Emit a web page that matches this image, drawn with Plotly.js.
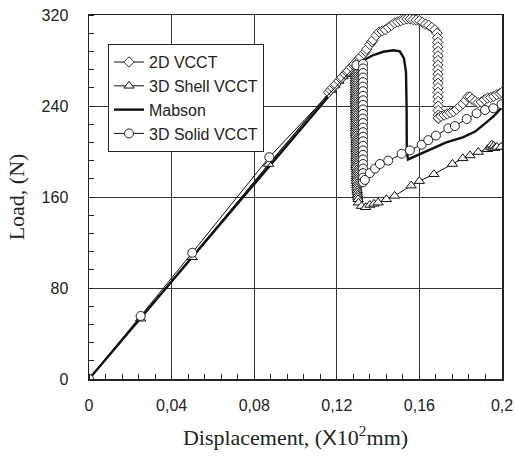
<!DOCTYPE html>
<html>
<head>
<meta charset="utf-8">
<script src="https://cdn.plot.ly/plotly-3.0.1.min.js"></script>
<style>html,body{margin:0;padding:0;background:#fff;}#chart{width:516px;height:460px;}</style>
</head>
<body>
<div id="chart"></div>
<script>
// ---- Data ----
const xTickVals = [0, 0.04, 0.08, 0.12, 0.16, 0.2];
const xTickText = ['0', '0,04', '0,08', '0,12', '0,16', '0,2'];
const yTickVals = [0, 80, 160, 240, 320];
const yTickText = ['0', '80', '160', '240', '320'];

const seriesNames = ['2D VCCT', '3D Shell VCCT', 'Mabson', '3D Solid VCCT'];

const vcct2dX = [0, 0.116, 0.117, 0.118, 0.119, 0.1195, 0.121, 0.122, 0.1225, 0.124, 0.125, 0.1255, 0.127, 0.128, 0.1285, 0.130, 0.131, 0.1315, 0.133, 0.134, 0.1345,
  0.136, 0.137, 0.1375, 0.139, 0.1405, 0.142, 0.1435, 0.145, 0.1465, 0.148, 0.1495, 0.151, 0.1525, 0.154, 0.1555, 0.157,
  0.1585, 0.160, 0.1615, 0.163, 0.1645, 0.166, 0.1675, 0.1685, 0.1688,
  0.1689, 0.1689, 0.169, 0.169, 0.169, 0.169, 0.169, 0.169, 0.169, 0.169, 0.169, 0.169, 0.169, 0.1691, 0.1691, 0.1691, 0.1692, 0.1692, 0.1692,
  0.1705, 0.172, 0.1735, 0.175, 0.1765, 0.178, 0.1795, 0.181, 0.1825, 0.1835, 0.1845, 0.1855, 0.187, 0.1885,
  0.190, 0.1915, 0.193, 0.1945, 0.196, 0.1975, 0.199, 0.2];
const vcct2dY = [0, 252, 254, 256, 258, 259, 262, 264, 265, 268, 270, 271, 274, 276, 277, 280, 282, 283, 286, 288, 290,
  294, 296.5, 298, 302, 305, 306, 307, 309, 311, 313, 314, 315, 316, 316.5, 316.5, 316,
  315.5, 315, 313.5, 312, 311, 309, 307, 304, 300,
  296, 292, 288, 284, 280, 276, 272, 268, 264, 260, 256, 252, 248, 244, 240, 236, 232, 229,
  229.5, 231, 232, 233, 234, 235, 237, 239.5, 242, 245, 248, 248, 246, 244, 243,
  243.5, 245.5, 247, 247.5, 248.5, 250, 251, 252];

const shellX = [0, 0.025, 0.05, 0.087, 0.117, 0.119, 0.121, 0.123, 0.125, 0.127, 0.128, 0.129,
  0.129, 0.129, 0.129, 0.129, 0.129, 0.129, 0.129, 0.129, 0.129, 0.129, 0.129, 0.129, 0.129, 0.129, 0.129, 0.129,
  0.1291, 0.1291, 0.1291, 0.1291, 0.1291, 0.1291, 0.1291, 0.1291, 0.1291, 0.1291, 0.1291, 0.1291, 0.1291, 0.1291,
  0.1293, 0.1293, 0.1293, 0.1293, 0.1293, 0.1293, 0.1293, 0.1293, 0.1293, 0.1293, 0.1293, 0.1293, 0.1293, 0.1293,
  0.1295, 0.1295, 0.1295, 0.1295, 0.1295, 0.1295, 0.1297, 0.1297, 0.1297, 0.1299, 0.1299, 0.1301, 0.1301, 0.1303,
  0.1305, 0.132, 0.134, 0.136, 0.138, 0.140, 0.144, 0.148, 0.156, 0.160, 0.167, 0.176, 0.181, 0.1845, 0.1885,
  0.193, 0.1945, 0.195, 0.1955, 0.196, 0.1965, 0.1975, 0.1995];
const shellY = [0, 53, 107, 189, 254, 258, 262, 266, 268, 271, 273, 274,
  272, 270, 268, 266, 264, 262, 260, 258, 256, 254, 252, 250, 248, 246, 244, 242,
  240, 238, 236, 234, 232, 230, 228, 226, 224, 222, 220, 218, 216, 214,
  212, 210, 208, 206, 204, 202, 200, 198, 196, 194, 192, 190, 188, 186,
  184, 182, 180, 178, 176, 174, 172, 170, 168, 166, 164, 162, 160, 158,
  155, 152, 151, 153, 154, 155, 158, 161, 170, 174, 180, 189, 194, 196.5, 199.5,
  202, 204, 206, 203, 205, 203, 204, 204];

const mabsonX = [0, 0.05, 0.087, 0.12, 0.13, 0.1345, 0.1377, 0.1425, 0.1474, 0.1505, 0.1525, 0.1535, 0.1538, 0.1539,
  0.1545, 0.157, 0.165, 0.173, 0.181, 0.187, 0.192, 0.196, 0.2];
const mabsonY = [0, 107, 187, 257, 275, 281.8, 284.8, 287.7, 289, 288, 282, 270, 240, 200,
  193, 195, 201, 208, 212.5, 217.5, 225, 231, 239];

const solidX = [0, 0.025, 0.05, 0.0873, 0.1295, 0.1327,
  0.1327, 0.1327, 0.1327, 0.1327, 0.1327, 0.1327, 0.1327, 0.1327, 0.1327, 0.1327, 0.1327, 0.1327, 0.1327,
  0.1327, 0.1327, 0.1327, 0.1327, 0.1327, 0.1327, 0.1327, 0.1327, 0.1327, 0.1327, 0.1327, 0.1327, 0.1327,
  0.1336, 0.136, 0.1385, 0.1409, 0.1449, 0.1514, 0.1554, 0.1611, 0.1643, 0.168, 0.174, 0.1772, 0.1829,
  0.1877, 0.1918, 0.1958, 0.1998];
const solidY = [0, 55.4, 111, 195, 276, 277,
  273, 269, 265, 261, 257, 253, 249, 245, 241, 237, 233, 229, 225,
  221, 217, 213, 209, 205, 201, 197, 193, 189, 185, 181, 177, 173,
  175, 181, 185, 189, 192, 198, 201, 206, 210, 214, 220.4, 222.4, 228.6,
  233.6, 236.5, 238, 241.5];

// ---- Traces ----
const traces = [
  {x: mabsonX, y: mabsonY, name: seriesNames[2], legendrank: 3, mode: 'lines', type: 'scatter',
    line: {color: '#111', width: 2.4}},
  {x: shellX, y: shellY, name: seriesNames[1], legendrank: 2, mode: 'lines+markers', type: 'scatter',
    line: {color: '#111', width: 1},
    marker: {symbol: 'triangle-up', size: 9, color: '#fff', line: {color: '#111', width: 1}}},
  {x: vcct2dX, y: vcct2dY, name: seriesNames[0], legendrank: 1, mode: 'lines+markers', type: 'scatter',
    line: {color: '#111', width: 1},
    marker: {symbol: 'diamond', size: 8, color: '#fff', line: {color: '#333', width: 1}}},
  {x: solidX, y: solidY, name: seriesNames[3], legendrank: 4, mode: 'lines+markers', type: 'scatter',
    line: {color: '#111', width: 1},
    marker: {symbol: 'circle', size: 9, color: '#fff', line: {color: '#222', width: 1}}}
];

const tickFont = {family: 'Liberation Sans, Arial, sans-serif', size: 16, color: '#222'};
const titleFont = {family: 'Liberation Serif, Times New Roman, serif', size: 22, color: '#222'};

const layout = {
  width: 516, height: 460,
  margin: {l: 89, r: 14, t: 15, b: 81},
  paper_bgcolor: '#fff', plot_bgcolor: '#fff',
  showlegend: true,
  legend: {x: 0.046, y: 0.92, xanchor: 'left', yanchor: 'top', bgcolor: '#fff',
    bordercolor: '#222', borderwidth: 1, font: {family: 'Liberation Sans, Arial, sans-serif', size: 16, color: '#222'},
    traceorder: 'normal', tracegroupgap: 0},
  xaxis: {
    range: [0, 0.2], tickmode: 'array', tickvals: xTickVals, ticktext: xTickText,
    tickfont: tickFont, ticks: '', ticklabelstandoff: 11,
    showgrid: true, gridcolor: '#333', gridwidth: 1, zeroline: false,
    showline: true, mirror: true, linecolor: '#222', linewidth: 1.5,
    minor: {dtick: 0.008, ticks: 'inside', ticklen: 5, tickcolor: '#222', showgrid: false},
    title: {text: 'Displacement, (<span style="font-family:Liberation Sans">X</span>10<sup>2</sup>mm)', font: titleFont, standoff: 17}
  },
  yaxis: {
    range: [0, 320], tickmode: 'array', tickvals: yTickVals, ticktext: yTickText,
    tickfont: tickFont, ticks: '', ticklabelstandoff: 16,
    showgrid: true, gridcolor: '#333', gridwidth: 1, zeroline: false,
    showline: true, mirror: true, linecolor: '#222', linewidth: 1.5,
    minor: {dtick: 16, ticks: 'inside', ticklen: 5, tickcolor: '#222', showgrid: false},
    title: {text: 'Load, (N)', font: titleFont, standoff: 11}
  }
};

Plotly.newPlot('chart', traces, layout, {staticPlot: true, displayModeBar: false});
</script>
</body>
</html>
